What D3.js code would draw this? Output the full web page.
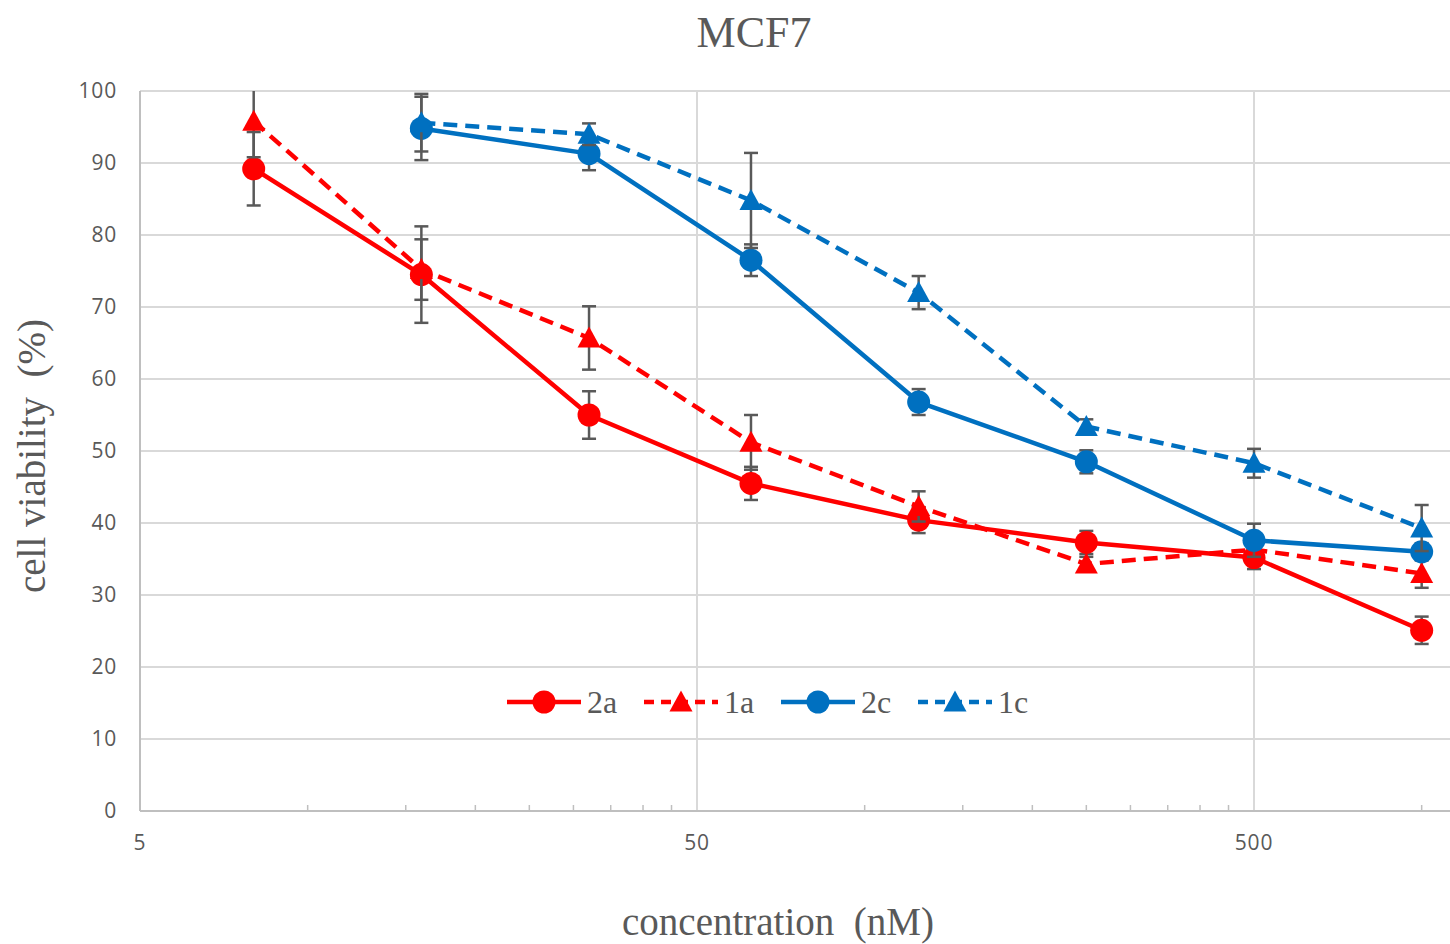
<!DOCTYPE html>
<html>
<head>
<meta charset="utf-8">
<script src="https://cdn.jsdelivr.net/npm/d3@7"></script>
<style>
  html, body { margin: 0; padding: 0; background: #ffffff; }
  svg { display: block; }
</style>
</head>
<body>
<svg id="chart" width="1450" height="944"></svg>
<script>
// Concentrations (nM) of the dilution series
const concA = [8, 16, 32, 62.5, 125, 250, 500, 1000];
const concC = [16, 32, 62.5, 125, 250, 500, 1000];

// Cell viability (%) and error (±) per compound
const via2a = [89.2, 74.5, 55.0, 45.5, 40.4, 37.3, 35.2, 25.1];
const err2a = [5.1, 6.7, 3.3, 2.3, 1.8, 1.6, 1.6, 1.9];
const via1a = [95.8, 75.2, 65.7, 51.2, 42.3, 34.3, 36.3, 33.0];
const err1a = [5.0, 4.2, 4.4, 3.8, 2.1, 1.0, 1.0, 2.0];
const via2c = [94.8, 91.3, 76.5, 56.8, 48.5, 37.6, 36.0];
const err2c = [4.4, 2.3, 2.2, 1.8, 1.6, 2.3, 1.2];
const via1c = [95.6, 94.0, 84.8, 72.0, 53.4, 48.3, 39.3];
const err1c = [4.0, 1.5, 6.6, 2.3, 1.0, 2.0, 3.2];

const seriesNames = ["2a", "1a", "2c", "1c"];
const yTicks = [0, 10, 20, 30, 40, 50, 60, 70, 80, 90, 100];
const xMajor = [5, 50, 500];
const xMinor = [10, 15, 20, 25, 30, 35, 40, 45, 100, 150, 200, 250, 300, 350, 400, 450, 1000];

const series = [
  { name: seriesNames[0], x: concA, y: via2a, e: err2a, color: "#ff0000", dashed: false, marker: "circle" },
  { name: seriesNames[1], x: concA, y: via1a, e: err1a, color: "#ff0000", dashed: true,  marker: "triangle" },
  { name: seriesNames[2], x: concC, y: via2c, e: err2c, color: "#0070c0", dashed: false, marker: "circle" },
  { name: seriesNames[3], x: concC, y: via1c, e: err1c, color: "#0070c0", dashed: true,  marker: "triangle" }
];

const svg = d3.select("#chart");
const plotLeft = 140, plotRight = 1450, plotTop = 91, plotBottom = 811;
const decade = 557;

const x = d3.scaleLog().base(10).domain([5, 5000]).range([plotLeft, plotLeft + 3 * decade]);
const y = d3.scaleLinear().domain([0, 100]).range([plotBottom, plotTop]);

const textGray = "#595959";
const gridGray = "#d9d9d9";
const axisGray = "#bfbfbf";
const serif = "'Liberation Serif', 'DejaVu Serif', serif";
const sans = "'Open Sans', 'Liberation Sans', sans-serif";

svg.append("defs").append("clipPath").attr("id", "plotClip")
  .append("rect").attr("x", plotLeft - 20).attr("y", plotTop)
  .attr("width", plotRight - plotLeft + 40).attr("height", plotBottom - plotTop + 20);

// Horizontal gridlines
svg.append("g").selectAll("line").data(yTicks.filter(d => d > 0)).join("line")
  .attr("x1", plotLeft).attr("x2", plotRight)
  .attr("y1", d => y(d)).attr("y2", d => y(d))
  .attr("stroke", gridGray).attr("stroke-width", 2);

// Vertical gridlines at decades
svg.append("g").selectAll("line").data(xMajor.slice(1)).join("line")
  .attr("x1", d => x(d)).attr("x2", d => x(d))
  .attr("y1", plotTop).attr("y2", plotBottom)
  .attr("stroke", gridGray).attr("stroke-width", 2);

// Axis lines
svg.append("line").attr("x1", plotLeft).attr("x2", plotLeft).attr("y1", plotTop).attr("y2", plotBottom)
  .attr("stroke", axisGray).attr("stroke-width", 2);
svg.append("line").attr("x1", plotLeft).attr("x2", plotRight).attr("y1", plotBottom).attr("y2", plotBottom)
  .attr("stroke", axisGray).attr("stroke-width", 2);

// Minor ticks on the log axis
svg.append("g").selectAll("line").data(xMinor).join("line")
  .attr("x1", d => x(d)).attr("x2", d => x(d))
  .attr("y1", plotBottom).attr("y2", plotBottom - 6)
  .attr("stroke", axisGray).attr("stroke-width", 1.5);

// Y tick labels
svg.append("g").selectAll("text").data(yTicks).join("text")
  .attr("x", 117).attr("y", d => y(d))
  .attr("dy", "0.35em")
  .attr("text-anchor", "end")
  .attr("font-family", sans)
  .attr("font-size", 21)
  .attr("letter-spacing", 0.8)
  .attr("fill", textGray)
  .text(d => d);

// X tick labels
svg.append("g").selectAll("text").data(xMajor).join("text")
  .attr("x", d => x(d)).attr("y", 843)
  .attr("dy", "0.35em")
  .attr("text-anchor", "middle")
  .attr("font-family", sans)
  .attr("font-size", 21)
  .attr("letter-spacing", 0.8)
  .attr("fill", textGray)
  .text(d => d);

// Titles
svg.append("text").attr("x", 754).attr("y", 47)
  .attr("text-anchor", "middle")
  .attr("font-family", serif)
  .attr("font-size", 44).attr("fill", textGray)
  .text("MCF7");

svg.append("text").attr("x", 778).attr("y", 935)
  .attr("text-anchor", "middle")
  .attr("font-family", serif)
  .attr("font-size", 39).attr("fill", textGray)
  .style("white-space", "pre")
  .text("concentration  (nM)");

svg.append("text")
  .attr("transform", "translate(45,456) rotate(-90)")
  .attr("text-anchor", "middle")
  .attr("font-family", serif)
  .attr("font-size", 39).attr("fill", textGray)
  .style("white-space", "pre")
  .text("cell viability  (%)");

const plot = svg.append("g").attr("clip-path", "url(#plotClip)");

// Upward triangle marker, 23 px wide and 21 px tall, centred on the point
const trianglePath = "M0,-11.5L11.5,9.5L-11.5,9.5Z";

function drawMarker(g, s, cx, cy) {
  if (s.marker === "circle") {
    g.append("circle").attr("cx", cx).attr("cy", cy).attr("r", 11.5).attr("fill", s.color);
  } else {
    g.append("path").attr("d", trianglePath).attr("transform", `translate(${cx},${cy})`).attr("fill", s.color);
  }
}

series.forEach(s => {
  const pts = s.x.map((c, i) => ({ c, v: s.y[i], e: s.e[i] }));
  const g = plot.append("g");

  // Error bars
  pts.forEach(p => {
    const hi = Math.min(100, p.v + p.e), lo = p.v - p.e;
    const cx = x(p.c);
    g.append("line").attr("x1", cx).attr("x2", cx).attr("y1", y(hi)).attr("y2", y(lo))
      .attr("stroke", textGray).attr("stroke-width", 2.5);
    const caps = [lo];
    if (p.v + p.e <= 100) caps.push(hi);
    caps.forEach(v => {
      g.append("line").attr("x1", cx - 7).attr("x2", cx + 7).attr("y1", y(v)).attr("y2", y(v))
        .attr("stroke", textGray).attr("stroke-width", 2.5);
    });
  });

  // Connecting line
  g.append("path").datum(pts)
    .attr("d", d3.line().x(p => x(p.c)).y(p => y(p.v)))
    .attr("fill", "none")
    .attr("stroke", s.color)
    .attr("stroke-width", 4.5)
    .attr("stroke-linejoin", "round")
    .attr("stroke-dasharray", s.dashed ? "14,8" : null);

  // Markers
  pts.forEach(p => drawMarker(g, s, x(p.c), y(p.v)));
});

// Legend
const legendX = [507, 644, 781, 918];
const legend = svg.append("g");
series.forEach((s, i) => {
  const lx = legendX[i], ly = 702;
  legend.append("line").attr("x1", lx).attr("x2", lx + 74).attr("y1", ly).attr("y2", ly)
    .attr("stroke", s.color).attr("stroke-width", 4.5)
    .attr("stroke-dasharray", s.dashed ? "10,7" : null);
  drawMarker(legend, s, lx + 37, ly);
  legend.append("text").attr("x", lx + 80).attr("y", ly + 11)
    .attr("font-family", serif)
    .attr("font-size", 32).attr("fill", textGray)
    .text(s.name);
});
</script>
</body>
</html>
